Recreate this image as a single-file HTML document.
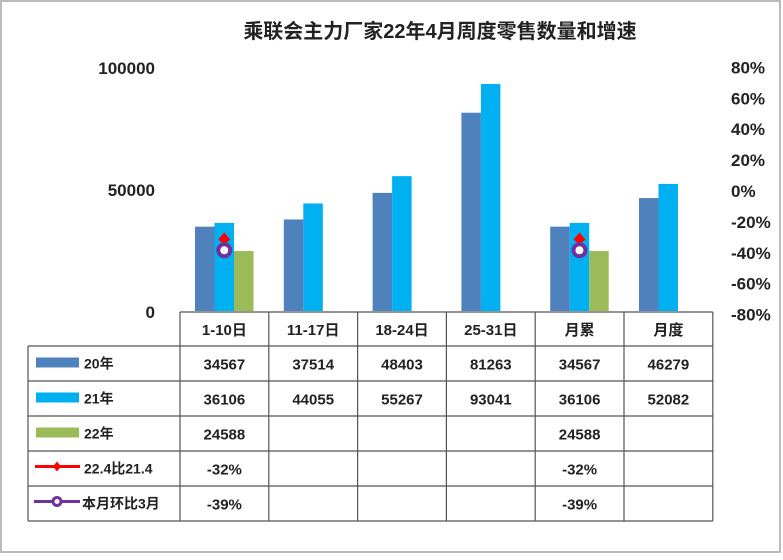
<!DOCTYPE html>
<html><head><meta charset="utf-8"><style>
body{margin:0;background:#fff;}
svg text{font-family:"Liberation Sans","Noto Sans CJK SC",sans-serif;font-weight:bold;fill:#222;}
</style></head><body>
<svg id="c" width="783" height="555" xmlns="http://www.w3.org/2000/svg">
<rect x="1" y="1" width="779" height="551" fill="#fff" stroke="#bbb" stroke-width="2"/>
<text x="440" y="38" font-size="20" text-anchor="middle">乘联会主力厂家22年4月周度零售数量和增速</text>
<g id="g"></g>
</svg>
<script>
const categories=["1-10日","11-17日","18-24日","25-31日","月累","月度"];
const s20=[34567,37514,48403,81263,34567,46279];
const s21=[36106,44055,55267,93041,36106,52082];
const s22=[24588,null,null,null,24588,null];
const yoy=[-32,null,null,null,-32,null];
const mom=[-39,null,null,null,-39,null];
const leftTicks=[0,50000,100000];
const rightTicks=[80,60,40,20,0,-20,-40,-60,-80];
const seriesNames=["20年","21年","22年","22.4比21.4","本月环比3月"];
const NS="http://www.w3.org/2000/svg";
const g=document.getElementById('g');
function el(t,a,txt){const e=document.createElementNS(NS,t);for(const k in a)e.setAttribute(k,a[k]);if(txt!=null)e.textContent=txt;g.appendChild(e);return e;}
const y0=311,yL=v=>y0-v*244/100000;
const yR=p=>190-p*1.545;
const tx0=180,cw=88.8;
const colX=i=>tx0+i*cw;
leftTicks.forEach(v=>{const t=el('text',{x:155,y:yL(v)+7,'font-size':17,'text-anchor':'end'},String(v));

});
rightTicks.forEach(v=>{const t=el('text',{x:731,y:yR(v)+7,'font-size':17},v+'%');

});
const colors=["#4f81bd","#00b0f0","#9bbb59"];
[s20,s21,s22].forEach((s,k)=>{s.forEach((v,i)=>{if(v==null)return;
const x=colX(i)+15+k*19.5;
const r=el('rect',{x:x,y:yL(v),width:19.5,height:y0-yL(v),fill:colors[k]});

});});
yoy.forEach((v,i)=>{if(v==null)return;const cx=colX(i)+15+19.5*1.5,cy=yR(v);
const p=el('path',{d:`M${cx-6} ${cy} L${cx} ${cy-7} L${cx+6} ${cy} L${cx} ${cy+5}Z`,fill:'#f00'});

});
mom.forEach((v,i)=>{if(v==null)return;const cx=colX(i)+15+19.5*1.5,cy=yR(v);
const c=el('circle',{cx:cx,cy:cy,r:6,fill:'#fff',stroke:'#7030a0','stroke-width':4});

});
const rows=[312,346,381,416,451,486,521];
const tr=colX(6);
el('line',{x1:tx0,y1:312,x2:tr,y2:312,stroke:'#555','stroke-width':1.2});
for(let r=1;r<rows.length;r++)el('line',{x1:28,y1:rows[r],x2:tr,y2:rows[r],stroke:'#555','stroke-width':1.2});
el('line',{x1:28,y1:346,x2:28,y2:521,stroke:'#555','stroke-width':1.2});
for(let i=0;i<=6;i++)el('line',{x1:colX(i),y1:312,x2:colX(i),y2:521,stroke:'#555','stroke-width':1.2});
categories.forEach((c,i)=>{const t=el('text',{x:colX(i)+cw/2,y:335,'font-size':15,'text-anchor':'middle'},c);

});
const data=[s20,s21,s22,yoy,mom];
data.forEach((s,r)=>{const cy=(rows[r+1]+rows[r+2])/2;
if(r<3){const k=el('rect',{x:36,y:cy-6,width:43,height:10,fill:colors[r]});

}
else if(r===3){el('line',{x1:35,y1:cy-2,x2:80,y2:cy-2,stroke:'#f00','stroke-width':3});
const k=el('path',{d:`M${57-4} ${cy-2} L57 ${cy-7} L${57+4} ${cy-2} L57 ${cy+3}Z`,fill:'#f00'});

}
else{el('line',{x1:34,y1:cy-2,x2:80,y2:cy-2,stroke:'#7030a0','stroke-width':3});
const k=el('circle',{cx:57,cy:cy-2,r:4,fill:'#fff',stroke:'#7030a0','stroke-width':3});

}
const lt=el('text',{x:r===4?82:84,y:cy+5,'font-size':14},seriesNames[r]);


s.forEach((v,i)=>{if(v==null)return;
const t=el('text',{x:colX(i)+cw/2,y:cy+6,'font-size':15,'text-anchor':'middle'},r>=3?v+'%':String(v));

});});
</script>
</body></html>
